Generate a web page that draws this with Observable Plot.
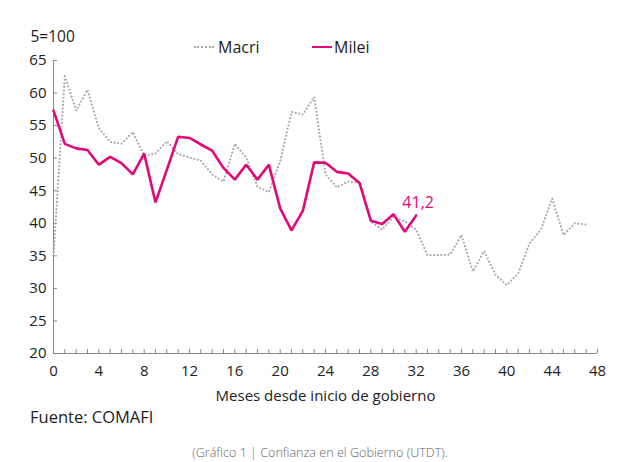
<!DOCTYPE html>
<html>
<head>
<meta charset="utf-8">
<script src="https://cdn.jsdelivr.net/npm/d3@7"></script>
<script src="https://cdn.jsdelivr.net/npm/@observablehq/plot@0.6"></script>
<style>
  html, body { margin: 0; padding: 0; background: #fff; }
  #wrap { position: relative; width: 640px; height: 462px; font-family: "Open Sans", sans-serif; }
  #legend { position: absolute; top: 36px; left: 0; width: 640px; height: 24px; font-size: 16px; color: #222; }
  .item { position: absolute; display: flex; align-items: center; }
  .sw { display: inline-block; width: 20px; height: 0; margin-right: 4px; }
  #chart { position: absolute; top: 0; left: 0; }
  #fuente { position: absolute; left: 30px; top: 405px; font-size: 16.5px; color: #222; }
  #caption { position: absolute; left: 0; width: 640px; top: 444px; text-align: center; font-size: 12.6px; color: #666; font-weight: 300; }
</style>
</head>
<body>
<div id="wrap">
  <div id="chart"></div>
  <div id="legend">
    <div class="item" style="left:194px"><span class="sw" style="border-top:2px dotted #a8a8a8"></span>Macri</div>
    <div class="item" style="left:312px"><span class="sw" style="border-top:2.5px solid #e2087a;margin-right:2px"></span>Milei</div>
  </div>
  <div id="fuente">Fuente: COMAFI</div>
  <div id="caption">(Gráfico 1 | Confianza en el Gobierno (UTDT).</div>
</div>
<script>
const monthsMacri = d3.range(0, 48);
const macri = [35.0, 62.6, 57.3, 60.5, 54.6, 52.5, 52.2, 54.0, 50.4, 50.7,
  52.6, 50.6, 50.1, 49.6, 47.5, 46.4, 52.2, 50.1, 45.6, 44.8,
  49.5, 57.1, 56.7, 59.4, 47.5, 45.5, 46.4, 46.3, 40.3, 39.0,
  41.0, 40.3, 39.0, 35.1, 35.1, 35.2, 38.2, 32.6, 35.7, 32.1,
  30.5, 32.3, 36.9, 39.0, 43.8, 38.2, 40.0, 39.8];
const monthsMilei = d3.range(0, 33);
const milei = [57.3, 52.2, 51.5, 51.25, 49.0, 50.2, 49.25, 47.5, 50.7, 43.2,
  48.2, 53.3, 53.1, 52.1, 51.15, 48.5, 46.7, 49.0, 46.7, 49.0,
  42.3, 38.9, 41.9, 49.35, 49.3, 47.9, 47.65, 46.2, 40.4, 39.9,
  41.4, 38.7, 41.2];
const xTicks = d3.range(0, 49, 4);
const xMinor = d3.range(0, 49);
const yTicks = d3.range(20, 66, 5);
const lastLabel = "41,2";

const macriData = monthsMacri.map((m, i) => ({m, v: macri[i]}));
const mileiData = monthsMilei.map((m, i) => ({m, v: milei[i]}));

const chart = Plot.plot({
  width: 640,
  height: 410,
  marginTop: 60,
  marginBottom: 57,
  marginLeft: 53,
  marginRight: 43,
  style: {fontFamily: "Open Sans, sans-serif", fontSize: "15px", color: "#222", background: "transparent"},
  x: {domain: [0, 48], label: null},
  y: {domain: [20, 65], label: null},
  marks: [
    Plot.axisX({ticks: xMinor, tickSize: 4, text: null, dy: -4, stroke: "#888", label: null}),
    Plot.axisX({ticks: xTicks, tickSize: 0, tickPadding: 12, fontSize: 15,
      label: "Meses desde inicio de gobierno", labelAnchor: "center", labelArrow: "none", labelOffset: 47}),
    Plot.axisY({ticks: yTicks, tickSize: 4, text: null, dx: 4, stroke: "#888", label: null}),
    Plot.axisY({ticks: yTicks, tickSize: 0, tickPadding: 7, fontSize: 15, label: null}),
    Plot.ruleX([0], {stroke: "#888"}),
    Plot.ruleY([20], {stroke: "#888"}),
    Plot.text(["5=100"], {frameAnchor: "top-left", dx: -23, dy: -30, fontSize: 15.5, fill: "#222"}),
    Plot.line(macriData, {x: "m", y: "v", stroke: "#a8a8a8", strokeWidth: 2.2, strokeDasharray: "0,3.6", strokeLinecap: "round"}),
    Plot.line(mileiData, {x: "m", y: "v", stroke: "#e2087a", strokeWidth: 2.6, strokeLinejoin: "miter"}),
    Plot.text(mileiData.slice(-1), {x: "m", y: "v", text: () => lastLabel, dy: -7, dx: 2, fill: "#e2087a", fontSize: 16, lineAnchor: "bottom"})
  ]
});
document.getElementById("chart").appendChild(chart);
</script>
</body>
</html>
